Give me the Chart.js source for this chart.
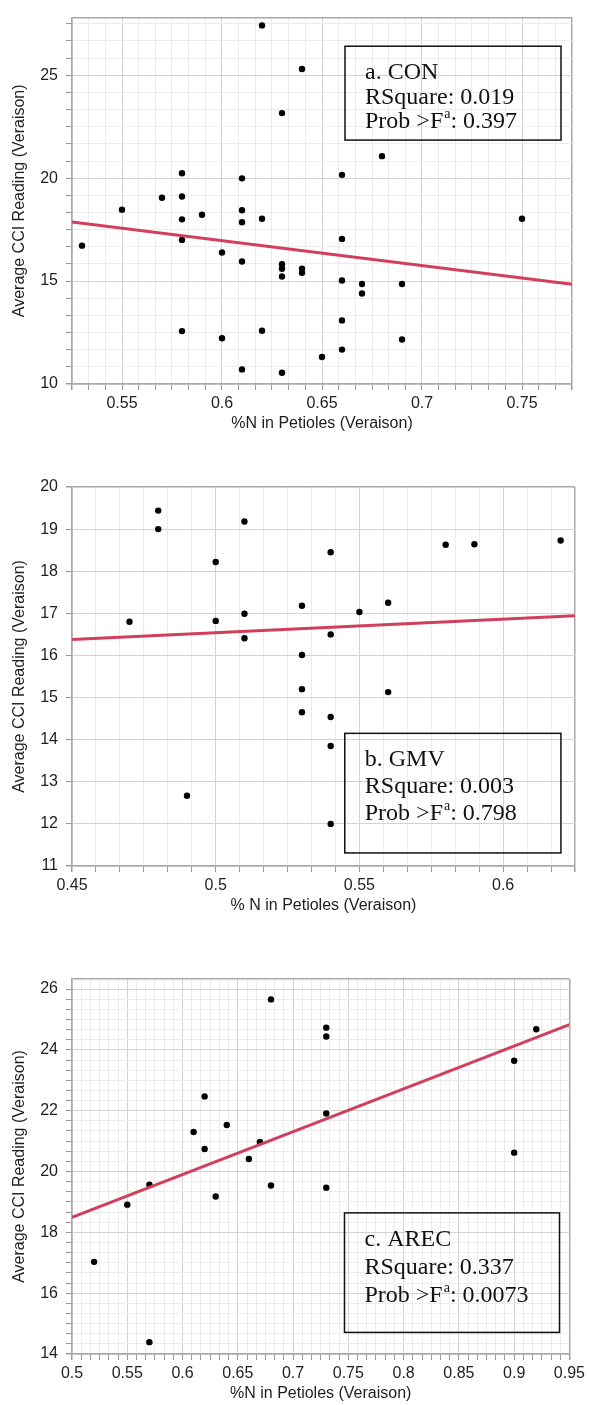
<!DOCTYPE html>
<html lang="en">
<head>
<meta charset="UTF-8">
<title>Average CCI vs petiole N</title>
<script src="https://cdn.jsdelivr.net/npm/chart.js"></script>
<style>
    body { margin: 0; background: #fff; overflow: hidden; }
    .panel { position: absolute; left: 0; }
</style>
</head>
<body>
<canvas id="conChart" class="panel" width="589" height="440" style="top:0px"></canvas>
<canvas id="gmvChart" class="panel" width="589" height="482" style="top:440px"></canvas>
<canvas id="arecChart" class="panel" width="589" height="488" style="top:922px"></canvas>

<script>
// a. CON
const conN   = [0.62, 0.64, 0.63, 0.68, 0.58, 0.66, 0.61, 0.58, 0.57, 0.55, 0.61, 0.59, 0.62, 0.75, 0.58, 0.61, 0.66, 0.58, 0.53, 0.60,
                0.61, 0.63, 0.63, 0.64, 0.64, 0.63, 0.66, 0.67, 0.69, 0.67, 0.66, 0.62, 0.58, 0.60, 0.69, 0.66, 0.65, 0.61, 0.63];
const conCCI = [27.42, 25.30, 23.16, 21.07, 20.24, 20.16, 19.99, 19.11, 19.05, 18.47, 18.44, 18.22, 18.03, 18.03, 18.00, 17.86, 17.05, 17.00, 16.72, 16.39,
                15.95, 15.82, 15.60, 15.60, 15.40, 15.22, 15.03, 14.86, 14.86, 14.40, 13.09, 12.59, 12.57, 12.22, 12.16, 11.67, 11.31, 10.71, 10.55];
const conFitN   = [0.525, 0.775];
const conFitCCI = [17.87, 14.84];
const conXTicks = [0.55, 0.6, 0.65, 0.7, 0.75];
const conYTicks = [10, 15, 20, 25];
const conStats  = ['a. CON', '0.019', '0.397'];

// b. GMV
const gmvN   = [0.48, 0.48, 0.51, 0.50, 0.47, 0.50, 0.51, 0.51, 0.53, 0.53, 0.54, 0.58, 0.59, 0.62, 0.55, 0.56, 0.54, 0.53, 0.56, 0.53, 0.54, 0.54, 0.49, 0.54];
const gmvCCI = [19.44, 19.00, 19.18, 18.22, 16.80, 16.82, 16.99, 16.41, 17.18, 16.01, 18.45, 18.63, 18.64, 18.73, 17.03, 17.25, 16.50, 15.20, 15.13, 14.65, 14.54, 13.85, 12.67, 12.00];
const gmvFitN   = [0.45, 0.625];
const gmvFitCCI = [16.38, 16.94];
const gmvXTicks = [0.45, 0.5, 0.55, 0.6];
const gmvYTicks = [11, 12, 13, 14, 15, 16, 17, 18, 19, 20];
const gmvStats  = ['b. GMV', '0.003', '0.798'];

// c. AREC
const arecN   = [0.68, 0.62, 0.61, 0.64, 0.62, 0.67, 0.66, 0.73, 0.73, 0.73, 0.92, 0.90, 0.90, 0.57, 0.55, 0.63, 0.68, 0.73, 0.52, 0.57];
const arecCCI = [25.66, 22.47, 21.30, 21.53, 20.74, 20.97, 20.41, 24.73, 24.44, 21.91, 24.68, 23.64, 20.62, 19.57, 18.91, 19.18, 19.54, 19.47, 17.03, 14.39];
const arecFitN   = [0.5, 0.95];
const arecFitCCI = [18.49, 24.83];
const arecXTicks = [0.5, 0.55, 0.6, 0.65, 0.7, 0.75, 0.8, 0.85, 0.9, 0.95];
const arecYTicks = [14, 16, 18, 20, 22, 24, 26];
const arecStats  = ['c. AREC', '0.337', '0.0073'];

const SANS = '"Liberation Sans", Arial, Helvetica, sans-serif';
const SERIF = '"Liberation Serif", "Times New Roman", serif';

Chart.defaults.font.family = SANS;
Chart.defaults.font.size = 16;
Chart.defaults.color = '#1e1e1e';

// major + minor ticks, plus the plot edge so the frame gets drawn
function makeTicks(min, max, labels, div) {
    const step = (labels[1] - labels[0]) / div;
    const anchor = labels[0];
    const out = [];
    const k0 = Math.ceil((min - anchor) / step - 1e-6);
    const k1 = Math.floor((max - anchor) / step + 1e-6);
    for (let k = k0; k <= k1; k++) {
        const v = +(anchor + k * step).toFixed(6);
        out.push({ value: v, major: k % div === 0 });
    }
    if (Math.abs(out[out.length - 1].value - max) > 1e-4) out.push({ value: max, extra: true });
    out.forEach(t => { t.edge = Math.abs(t.value - max) < 1e-4 || Math.abs(t.value - min) < 1e-4; });
    return out;
}

function axis(min, max, labels, div, title, isX) {
    return {
        type: 'linear',
        position: isX ? 'bottom' : 'left',
        min: min,
        max: max,
        afterBuildTicks: s => { s.ticks = makeTicks(min, max, labels, div); },
        afterFit: s => { if (isX) s.height = 56; else s.width = 72; },
        ticks: {
            autoSkip: false,
            maxRotation: 0,
            padding: isX ? 4 : 8,
            color: '#1e1e1e',
            callback: v => labels.some(l => Math.abs(l - v) < 1e-6) ? String(+v.toFixed(4)) : ''
        },
        grid: {
            tickLength: 6,
            color: c => {
                const t = c.tick;
                if (!t) return '#ececec';
                if (t.edge) return '#a9a9a9';
                return t.major ? '#d3d3d3' : '#ececec';
            },
            lineWidth: c => (c.tick && c.tick.edge) ? 1.5 : 1,
            tickColor: c => (c.tick && c.tick.extra) ? 'rgba(0,0,0,0)' : '#9a9a9a'
        },
        border: { color: '#a9a9a9', width: 1.5 },
        title: {
            display: true,
            text: title,
            color: '#1e1e1e',
            font: { size: 16 },
            padding: isX ? { top: 0, bottom: 7 } : { top: 10, bottom: 0 }
        }
    };
}

const statBox = {
    id: 'statBox',
    afterDatasetsDraw(chart, args, o) {
        if (!o.box) return;
        const { ctx, scales: { x, y } } = chart;
        const left = x.getPixelForValue(o.box[0]);
        const right = x.getPixelForValue(o.box[1]);
        const top = y.getPixelForValue(o.box[2]);
        const bottom = y.getPixelForValue(o.box[3]);
        ctx.save();
        ctx.strokeStyle = '#111';
        ctx.lineWidth = 1.5;
        ctx.strokeRect(left, top, right - left, bottom - top);
        ctx.fillStyle = '#111';
        ctx.textBaseline = 'alphabetic';
        ctx.textAlign = 'left';
        const tx = left + 20;
        let by = top + 33;
        ctx.font = '24px ' + SERIF;
        ctx.fillText(o.stats[0], tx, by);
        by += o.gap;
        ctx.fillText('RSquare: ' + o.stats[1], tx, by);
        by += o.gap;
        const w1 = ctx.measureText('Prob >F').width;
        ctx.fillText('Prob >F', tx, by);
        ctx.font = '14px ' + SERIF;
        ctx.fillText('a', tx + w1 + 1, by - 10);
        const w2 = ctx.measureText('a').width;
        ctx.font = '24px ' + SERIF;
        ctx.fillText(': ' + o.stats[2], tx + w1 + 1 + w2, by);
        ctx.restore();
    }
};

function panel(id, n, cci, fitN, fitCCI, xr, yr, xTicks, yTicks, yDiv, xTitle, pad, box) {
    new Chart(document.getElementById(id), {
        type: 'scatter',
        data: {
            datasets: [{
                type: 'line',
                data: fitN.map((v, i) => ({ x: v, y: fitCCI[i] })),
                borderColor: '#d13f5c',
                borderWidth: 3,
                pointRadius: 0,
                fill: false
            }, {
                data: n.map((v, i) => ({ x: v, y: cci[i] })),
                backgroundColor: '#000',
                borderWidth: 0,
                pointRadius: 3.2
            }]
        },
        options: {
            responsive: false,
            animation: false,
            devicePixelRatio: 1,
            layout: { padding: pad },
            plugins: {
                legend: { display: false },
                tooltip: { enabled: false },
                statBox: box
            },
            scales: {
                x: axis(xr[0], xr[1], xTicks, 6, xTitle, true),
                y: axis(yr[0], yr[1], yTicks, yDiv, 'Average CCI Reading (Veraison)', false)
            }
        },
        plugins: [statBox]
    });
}

panel('conChart', conN, conCCI, conFitN, conFitCCI, [0.525, 0.775], [10, 27.8], conXTicks, conYTicks, 6,
    '%N in Petioles (Veraison)', { top: 8, right: 17, left: 0, bottom: 0 },
    { box: [0.6615, 0.7695, 26.41, 21.85], gap: 24.3, stats: conStats });

panel('gmvChart', gmvN, gmvCCI, gmvFitN, gmvFitCCI, [0.45, 0.625], [11, 20], gmvXTicks, gmvYTicks, 1,
    '% N in Petioles (Veraison)', { top: 47, right: 14, left: 0, bottom: 0 },
    { box: [0.5449, 0.6201, 14.15, 11.31], gap: 27, stats: gmvStats });

panel('arecChart', arecN, arecCCI, arecFitN, arecFitCCI, [0.5, 0.95], [14, 26.33], arecXTicks, arecYTicks, 6,
    '%N in Petioles (Veraison)', { top: 57, right: 18, left: 0, bottom: 0 },
    { box: [0.7465, 0.941, 18.64, 14.71], gap: 28, stats: arecStats });
</script>
</body>
</html>
